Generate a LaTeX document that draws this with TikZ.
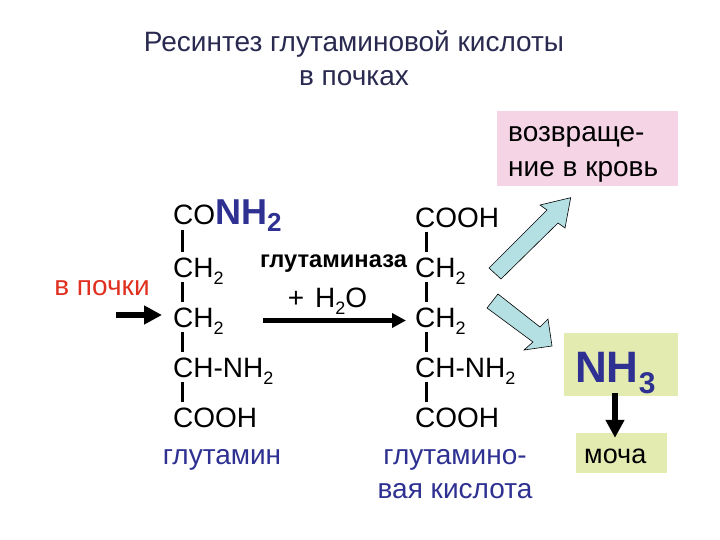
\documentclass[tikz,border=0pt]{standalone}
\usepackage{fontspec}
\setmainfont{Liberation Sans}
\usetikzlibrary{arrows.meta}
\definecolor{pinkbox}{HTML}{F5D5E5}
\definecolor{limebox}{HTML}{E3EBB0}
\definecolor{arrowfill}{HTML}{B5E0E3}
\definecolor{navy}{HTML}{2E3192}
\definecolor{titlec}{HTML}{2A2A50}
\definecolor{redtxt}{HTML}{E03020}
\newcommand{\sbs}[1]{\raisebox{-7pt}{\fontsize{18}{18}\selectfont #1}}
\tikzset{x=1pt,y=-1pt,
 txt/.style={inner sep=0pt,font=\fontsize{28}{28}\selectfont,anchor=base west,text=black},
 chem/.style={txt,text height=25pt,text depth=5pt},
 ctr/.style={inner sep=0pt,font=\fontsize{28}{28}\selectfont,anchor=base},
 bond/.style={line width=2.5pt,black},
 thick arrow/.style={line width=6pt,black,-{Triangle[length=18pt,width=18pt]}},
 main arrow/.style={line width=5pt,black,-{Triangle[length=14pt,width=14pt]}},
 blockarrow/.style={draw=black,line width=.6pt,fill=arrowfill},
 boxfill/.style={inner sep=0pt,fill=#1}}
\begin{document}
\begin{tikzpicture}
\useasboundingbox (0,0) rectangle (720,540);
\fill[white] (0,0) rectangle (720,540);
\node[ctr,text=titlec] (t1) at (354,52) {Ресинтез глутаминовой кислоты};
\node[ctr,text=titlec] (t2) at (354,86) {в почках};
\node[boxfill=pinkbox,minimum width=181pt,minimum height=75pt] (rb) at (587.5,148.5) {};
\node[txt] (r1) at (508,142) {возвраще-};
\node[txt] (r2) at (508,177) {ние в кровь};
% left column
\node[chem] (a1) at (173,225) {CO\textcolor{navy}{\fontsize{36}{36}\selectfont\bfseries NH\raisebox{-7pt}{\fontsize{26}{26}\selectfont 2}}};
\node[chem] (a2) at (173,277) {CH\sbs{2}};
\node[chem] (a3) at (173,327) {CH\sbs{2}};
\node[chem] (a4) at (173,377) {CH-NH\sbs{2}};
\node[chem] (a5) at (173,427) {COOH};
\node[ctr,text=navy] (a6) at (222,464) {глутамин};
\coordinate (ax) at (182.5,0);
\foreach \u/\v in {a1/a2,a2/a3,a3/a4,a4/a5}
  \draw[bond] (ax |- \u.south) -- (ax |- \v.north);
% right column
\node[chem] (b1) at (415,227) {COOH};
\node[chem] (b2) at (415,277) {CH\sbs{2}};
\node[chem] (b3) at (415,327) {CH\sbs{2}};
\node[chem] (b4) at (415,377) {CH-NH\sbs{2}};
\node[chem] (b5) at (415,427) {COOH};
\node[ctr,text=navy] (b6) at (455,464) {глутамино-};
\node[ctr,text=navy] (b7) at (455,498) {вая кислота};
\coordinate (bx) at (426.5,0);
\foreach \u/\v in {b1/b2,b2/b3,b3/b4,b4/b5}
  \draw[bond] (bx |- \u.south) -- (bx |- \v.north);
% labels
\node[ctr,text=redtxt] (p) at (102,295) {в почки};
\node[ctr,font=\fontsize{23.7}{24}\selectfont\bfseries] (e) at (333.5,267) {глутаминаза};
\node[ctr] (w) at (327.5,307) {+\hspace{11pt}H\sbs{2}O};
\coordinate (p0) at (116,315);
\draw[thick arrow,shorten >=11pt] (p0) -- (a3.west |- p0);
\coordinate (m0) at (263,320.5);
\coordinate (m1) at (406,320.5);
\draw[main arrow] (m0) -- (m1);
% block arrows
\draw[blockarrow] (570.7,197.7) -- (540,205) -- (547,210) -- (489,268) -- (501,279) -- (558,223) -- (565,228) -- cycle;
\draw[blockarrow] (552,346) -- (548,319) -- (540,327) -- (498,294) -- (487,308) -- (533,342) -- (524,350) -- cycle;
% NH3
\node[boxfill=limebox,minimum width=114pt,minimum height=63pt] (nb) at (621,364.5) {};
\node[txt,text=navy,font=\fontsize{44}{44}\selectfont\bfseries] (n) at (575,382) {NH\raisebox{-11pt}{\fontsize{30}{30}\selectfont 3}};
\node[boxfill=limebox,minimum width=91pt,minimum height=40pt] (ub) at (621.5,453) {};
\node[txt,font=\fontsize{27}{27}\selectfont] (u) at (584,463) {моча};
\draw[thick arrow,shorten <=-3pt,shorten >=-5pt] (nb.south -| 615,0) -- (ub.north -| 615,0);
\end{tikzpicture}
\end{document}
